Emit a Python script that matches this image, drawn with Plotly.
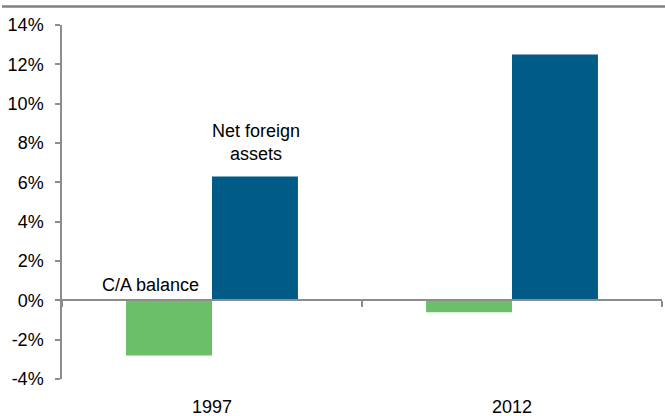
import plotly.graph_objects as go

# Chart data (% of GDP)
years = ["1997", "2012"]
ca_balance = [-2.8, -0.6]
net_foreign_assets = [6.3, 12.5]
y_tick_values = [-4, -2, 0, 2, 4, 6, 8, 10, 12, 14]
y_tick_labels = ["-4%", "-2%", "0%", "2%", "4%", "6%", "8%", "10%", "12%", "14%"]

GREEN = "#6BBF69"
BLUE = "#005B86"
AXIS_GREY = "#8C8C8C"
FONT = "Liberation Sans Narrow, Liberation Sans, Arial, sans-serif"

y_min, y_max = -4, 14

fig = go.Figure()
fig.add_trace(go.Bar(x=years, y=ca_balance, name="C/A balance",
                     marker=dict(color=GREEN, line=dict(width=0))))
fig.add_trace(go.Bar(x=years, y=net_foreign_assets, name="Net foreign assets",
                     marker=dict(color=BLUE, line=dict(width=0))))

# category axis drawn along the zero line
zero_pos = (0 - y_min) / (y_max - y_min)

fig.update_layout(
    width=665, height=416,
    margin=dict(l=62, r=3, t=25, b=37),
    paper_bgcolor="white", plot_bgcolor="white",
    barmode="group", bargap=0.427, bargroupgap=0,
    showlegend=False,
    font=dict(family=FONT, size=18, color="black"),
    xaxis=dict(
        type="category", anchor="free", position=zero_pos,
        showline=True, linecolor=AXIS_GREY, linewidth=1.5,
        ticks="outside", tickson="boundaries", ticklen=6,
        tickcolor=AXIS_GREY, tickwidth=1.5,
        showticklabels=False, showgrid=False, zeroline=False,
        range=[-0.5, len(years) - 0.5],
    ),
    yaxis=dict(
        range=[y_min, y_max],
        tickvals=y_tick_values, ticktext=y_tick_labels,
        showline=True, linecolor=AXIS_GREY, linewidth=1.5,
        ticks="outside", ticklen=5, tickcolor=AXIS_GREY, tickwidth=1.5,
        ticklabelstandoff=8,
        showgrid=False, zeroline=False,
        tickfont=dict(family=FONT, size=18, color="black"),
    ),
)

# year labels beneath the plot (category index positions)
for i, yr in enumerate(years):
    fig.add_annotation(x=i, y=0, xref="x", yref="paper", yanchor="top",
                       yshift=-16, text=yr, showarrow=False,
                       font=dict(family=FONT, size=18, color="black"))

# series labels
fig.add_annotation(x=0, y=0, xref="x", yref="y", xshift=-62,
                   yanchor="bottom", yshift=3, text="C/A balance",
                   showarrow=False, bgcolor="white",
                   font=dict(family=FONT, size=18, color="black"))
fig.add_annotation(x=0, y=net_foreign_assets[0], xref="x", yref="y",
                   xshift=44, yanchor="bottom", yshift=10,
                   text="Net foreign<br>assets", showarrow=False,
                   font=dict(family=FONT, size=18, color="black"))

# rule across the top of the chart
fig.add_shape(type="line", xref="paper", yref="paper",
              x0=-0.1, x1=1.01, y0=1.052, y1=1.052,
              line=dict(color="#808080", width=2.5))

fig.write_html("out.html")
